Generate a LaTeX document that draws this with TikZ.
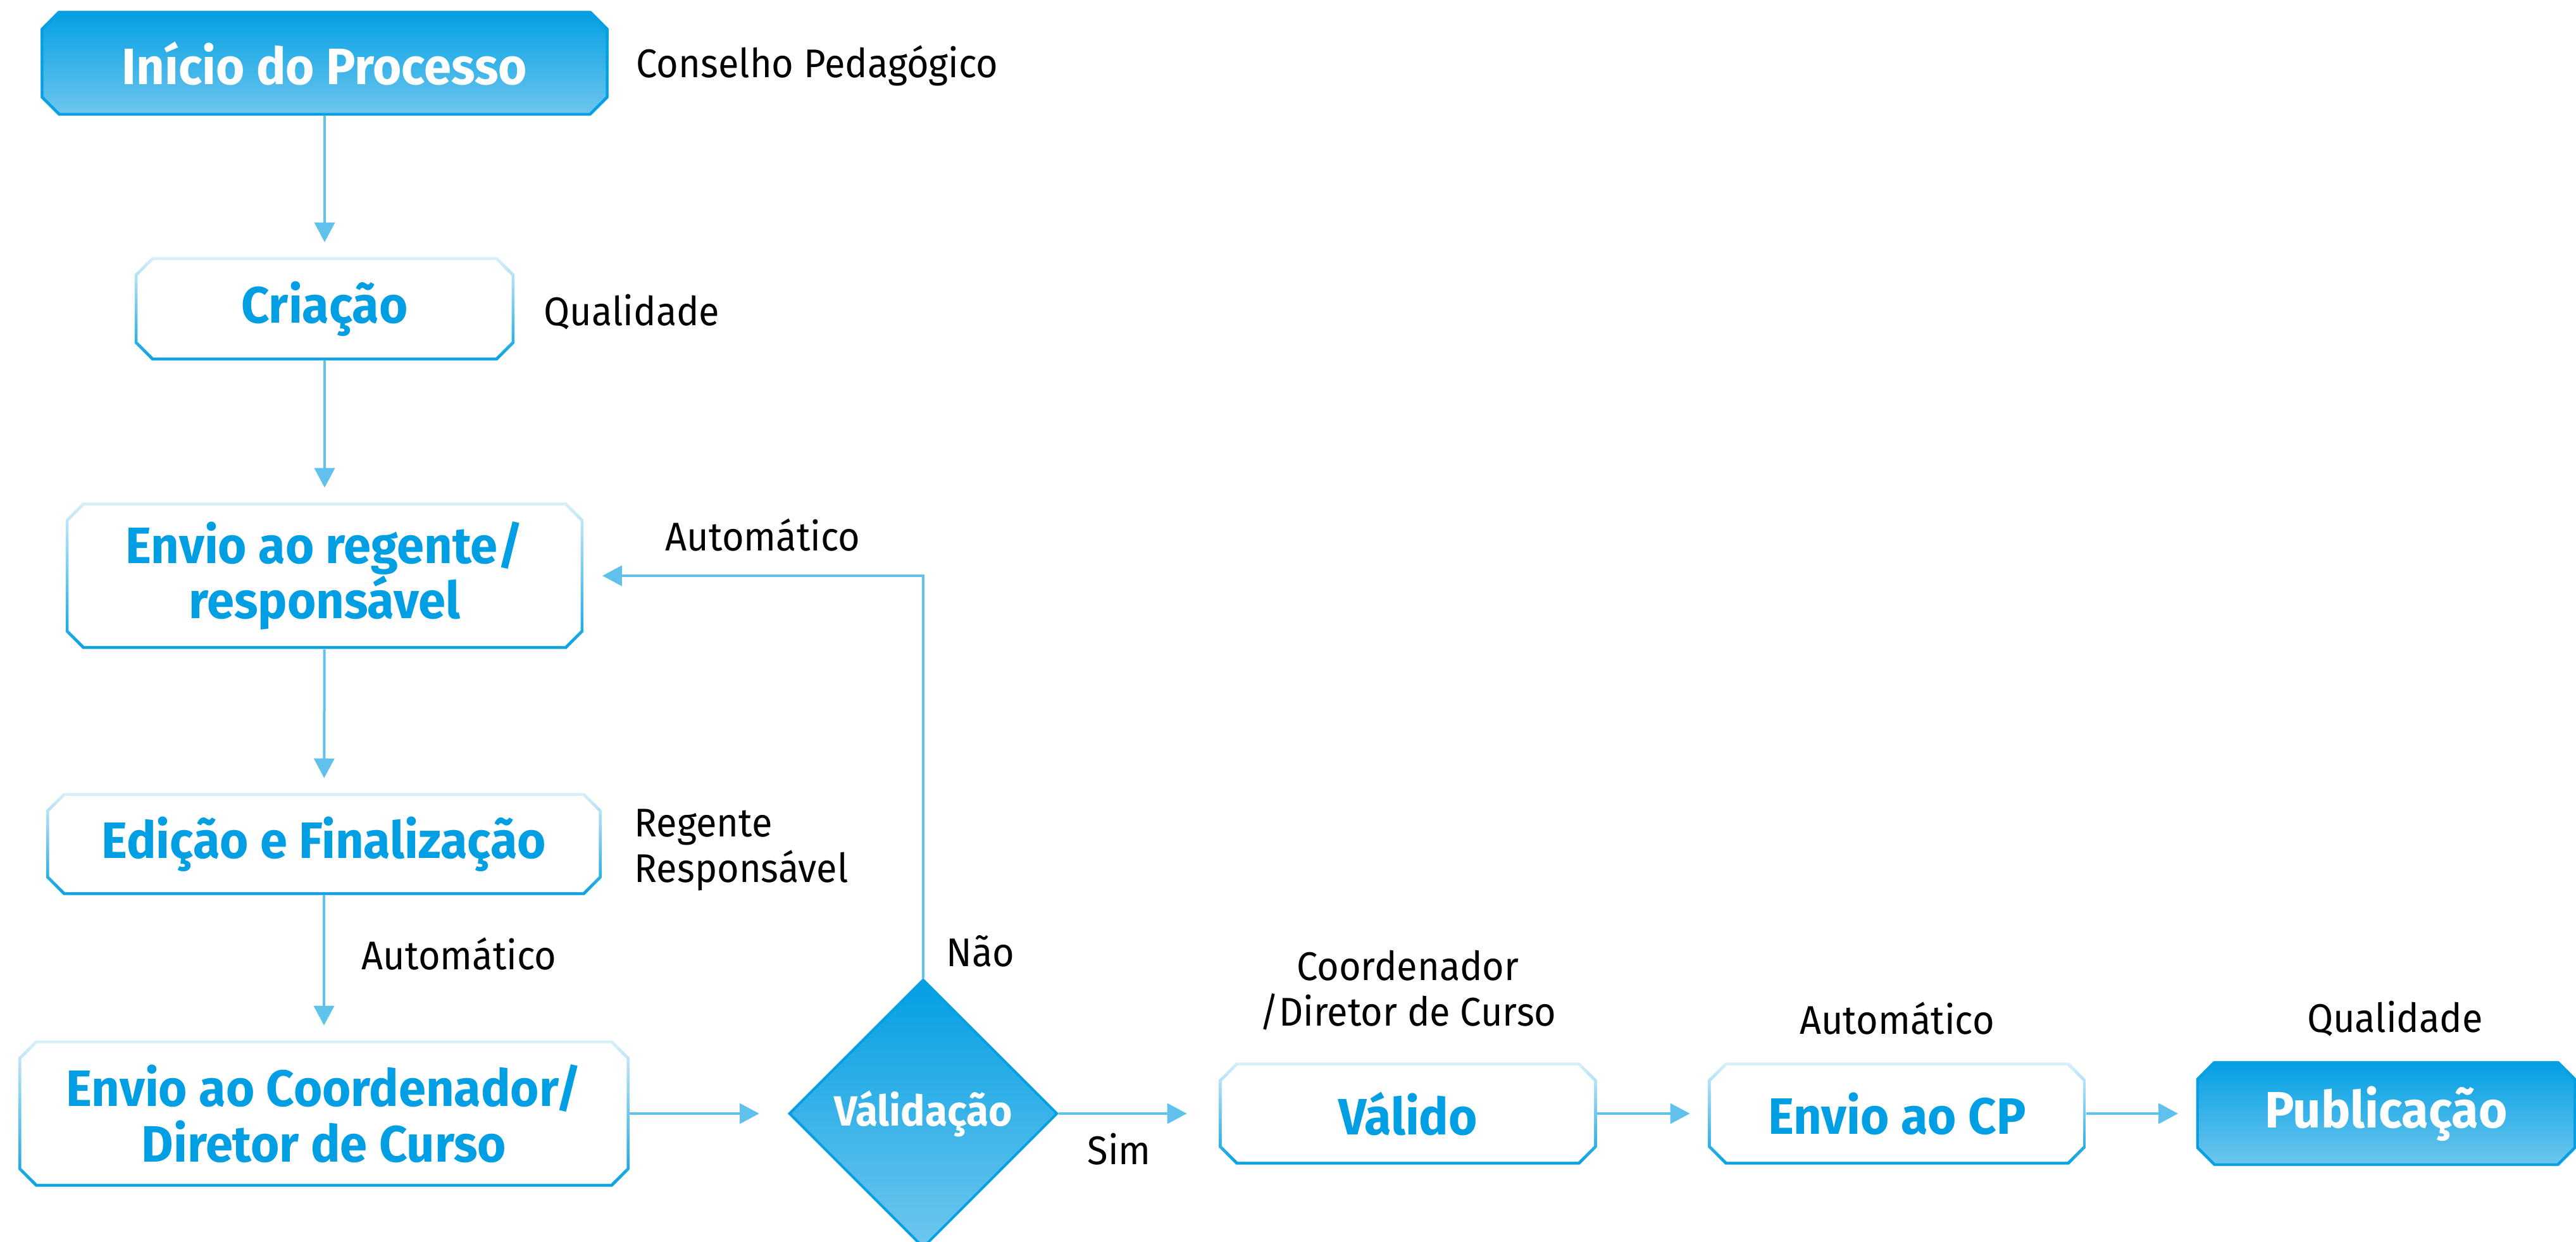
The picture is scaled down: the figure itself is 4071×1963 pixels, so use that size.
\documentclass[tikz,border=0pt]{standalone}
\usepackage{fontspec}
\setmainfont{Fira Sans}[FakeStretch=0.94]
\newfontfamily\boxfont{Fira Sans}[FakeStretch=0.96]
\usepackage{tikz}
\usetikzlibrary{arrows.meta,shapes.geometric,calc}
\definecolor{blueTop}{RGB}{3,159,227}
\definecolor{blueBot}{RGB}{110,198,238}
\definecolor{blueLine}{RGB}{5,160,227}
\definecolor{lineBlue}{RGB}{96,194,236}
\definecolor{bordTop}{RGB}{215,239,250}
\definecolor{bordBot}{RGB}{8,161,227}
\definecolor{textBlue}{RGB}{0,158,226}
% octagon inside the node: #1 chamfer, #2 inset
\newcommand{\octa}[2]{($(path picture bounding box.north west)+(#2,-#2-#1)$)
  -- ($(path picture bounding box.north west)+(#2+#1,-#2)$)
  -- ($(path picture bounding box.north east)+(-#2-#1,-#2)$)
  -- ($(path picture bounding box.north east)+(-#2,-#2-#1)$)
  -- ($(path picture bounding box.south east)+(-#2,#2+#1)$)
  -- ($(path picture bounding box.south east)+(-#2-#1,#2)$)
  -- ($(path picture bounding box.south west)+(#2+#1,#2)$)
  -- ($(path picture bounding box.south west)+(#2,#2+#1)$) -- cycle}
\tikzstyle{bluebox}=[rectangle,inner sep=0pt,fill=white,text=white,align=center,
  font=\boxfont\bfseries\fontsize{23}{25}\selectfont,
  path picture={\shade[top color=blueTop,bottom color=blueBot] \octa{0.27cm}{0cm};
    \draw[blueLine,line width=0.04cm] \octa{0.27cm}{0.02cm};}]
\tikzstyle{whitebox}=[rectangle,inner sep=0pt,fill=white,text=textBlue,align=center,
  font=\boxfont\bfseries\fontsize{23}{25}\selectfont,
  path picture={\shade[top color=bordTop,bottom color=bordBot] \octa{0.27cm}{0cm};
    \fill[white] \octa{0.25cm}{0.045cm};}]
\tikzstyle{decision}=[diamond,inner sep=0pt,shape aspect=1,minimum width=4.24cm,minimum height=4.24cm,
  top color=blueTop,bottom color=blueBot,draw=blueLine,line width=0.04cm,text=white,
  font=\boxfont\bfseries\fontsize{19}{22}\selectfont]
\tikzstyle{note}=[inner sep=0pt,text=black,font=\fontsize{18}{20.5}\selectfont]
\tikzstyle{edge}=[draw=lineBlue,line width=0.04cm,-{Triangle[length=0.31cm,width=0.32cm]},shorten >=0.23cm]

\begin{document}
\begin{tikzpicture}[x=0.01cm,y=-0.01cm]
  \useasboundingbox (0,0) rectangle (4071,1963);
  \node[bluebox,minimum width=8.96cm,minimum height=1.65cm] (start) at (513,100) {Início do Processo};
  \node[whitebox,minimum width=6.00cm,minimum height=1.63cm] (crea) at (513,488) {Criação};
  \node[whitebox,minimum width=8.18cm,minimum height=2.31cm] (regente) at (513,910) {Envio ao regente/\\responsável};
  \node[whitebox,minimum width=8.77cm,minimum height=1.61cm] (edicao) at (512,1334) {Edição e Finalização};
  \node[whitebox,minimum width=9.65cm,minimum height=2.31cm] (coord) at (512,1760) {Envio ao Coordenador/\\Diretor de Curso};
  \node[decision] (valid) at (1459,1760) {Válidação};
  \node[whitebox,minimum width=5.97cm,minimum height=1.61cm] (valido) at (2225,1760) {Válido};
  \node[whitebox,minimum width=5.97cm,minimum height=1.61cm] (envcp) at (2998,1760) {Envio ao CP};
  \node[bluebox,minimum width=6.00cm,minimum height=1.65cm] (pub) at (3771,1760) {Publicação};

  % who does what
  \node[note,anchor=west] (n1) at (1005,104) {Conselho Pedagógico};
  \node[note,anchor=west] (n2) at (859,493) {Qualidade};
  \node[note,anchor=west] (n3) at (1051,846) {Automático};
  \node[note,anchor=west,align=left] (n4) at (1002,1343) {Regente\\Responsável};
  \node[note,anchor=west] (n5) at (571,1508) {Automático};
  \node[note,anchor=west] (n6) at (1495,1503) {Não};
  \node[note,anchor=west] (n7) at (1718,1816) {Sim};
  \node[note,align=center] (n8) at (2225,1565) {Coordenador\\/Diretor de Curso};
  \node[note] (n9) at (2998,1610) {Automático};
  \node[note] (n10) at (3785,1610) {Qualidade};

  \draw[edge] (start) -- (crea);
  \draw[edge] (crea) -- (regente);
  \draw[edge] (regente) -- (edicao);
  \draw[edge] (edicao) -- (coord);
  \draw[edge,shorten >=0.45cm] (coord) -- (valid);
  \draw[edge,shorten >=0.29cm] (valid.north) |- (regente.east);
  \draw[edge,shorten >=0.5cm] (valid) -- (valido);
  \draw[edge,shorten >=0.28cm] (valido) -- (envcp);
  \draw[edge,shorten >=0.28cm] (envcp) -- (pub);
\end{tikzpicture}
\end{document}
